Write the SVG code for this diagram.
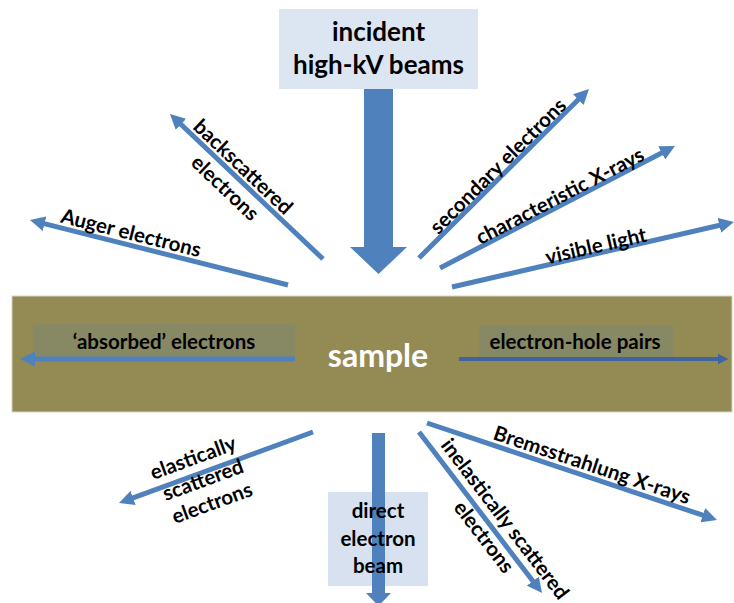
<svg xmlns="http://www.w3.org/2000/svg" width="734" height="603" viewBox="0 0 734 603">
  <defs>
    <style>
      .lbl { font-family: Lato, "Liberation Sans", sans-serif; font-weight: bold; font-size: 20.5px; fill: #000; text-anchor: middle; }
      .big { font-family: Lato, "Liberation Sans", sans-serif; font-weight: bold; font-size: 26px; fill: #000; text-anchor: middle; }
      .smp { font-family: Lato, "Liberation Sans", sans-serif; font-weight: bold; font-size: 32px; fill: #fff; text-anchor: middle; }
      .arr { stroke: #4f81bd; stroke-width: 5; fill: none; marker-end: url(#head); }
      .arr2 { stroke: #3e64a1; stroke-width: 4; fill: none; marker-end: url(#head2); }
      .blue { fill: #4f81bd; }
    </style>
    <marker id="head" viewBox="0 0 10 10" refX="1" refY="5" markerWidth="3" markerHeight="3" orient="auto" markerUnits="strokeWidth">
      <path d="M0,0 L10,5 L0,10 z" fill="#4f81bd"/>
    </marker>
    <marker id="head2" viewBox="0 0 10 10" refX="1" refY="5" markerWidth="2.6" markerHeight="2.6" orient="auto" markerUnits="strokeWidth">
      <path d="M0,0 L10,5 L0,10 z" fill="#3e64a1"/>
    </marker>
  </defs>

  <rect width="734" height="603" fill="#ffffff"/>

  <g id="sample">
    <rect x="12" y="296" width="720" height="116" fill="#948a54" stroke="#d8d6c4" stroke-width="1"/>
    <text class="smp" x="378" y="367">sample</text>
  </g>

  <g id="incident">
    <rect x="279" y="9" width="199" height="80" fill="#dce6f2"/>
    <text class="big" x="378.5" y="41">incident</text>
    <text class="big" x="378.5" y="74">high-kV beams</text>
  </g>

  <g id="absorbed">
    <rect x="33" y="324" width="262" height="33" fill="#878965"/>
    <text class="lbl" x="164" y="349">‘absorbed’ electrons</text>
  </g>

  <g id="electron-hole">
    <rect x="479" y="325" width="194" height="34" fill="#878965"/>
    <text class="lbl" x="575" y="349">electron-hole pairs</text>
  </g>

  <g id="direct">
    <rect x="328" y="492" width="100" height="94" fill="#d7e1f0"/>
  </g>

  <g id="connectors">
    <polygon class="blue" points="364,89 393,89 393,247 407,247 378.5,274 350,247 364,247"/>
    <line class="arr" x1="323" y1="259" x2="179.8" y2="123.3"/>
    <line class="arr" x1="288" y1="285" x2="43.1" y2="223.3"/>
    <line class="arr" x1="419" y1="258" x2="579.4" y2="98.5"/>
    <line class="arr" x1="440" y1="268" x2="663" y2="152.2"/>
    <line class="arr" x1="452" y1="287" x2="720.8" y2="225"/>
    <line class="arr" x1="295" y1="359" x2="33.5" y2="359"/>
    <line class="arr2" x1="459" y1="359" x2="719" y2="359"/>
    <line class="arr" x1="313" y1="432" x2="131.7" y2="498.4"/>
    <line class="arr" x1="419" y1="432" x2="533.8" y2="582.3"/>
    <line class="arr" x1="427" y1="423" x2="704.2" y2="515.7"/>
    <polygon class="blue" points="372,433 385,433 385,593 391,593 378.5,606 366,593 372,593"/>
  </g>

  <g id="direct-label">
    <text class="lbl" x="378" y="518">direct</text>
    <text class="lbl" x="378" y="546">electron</text>
    <text class="lbl" x="378" y="573">beam</text>
  </g>

  <g id="labels">
    <g transform="translate(131,233) rotate(14.1)"><text class="lbl" y="7">Auger electrons</text></g>
    <g transform="translate(243,167) rotate(43.5)"><text class="lbl" y="7">backscattered</text></g>
    <g transform="translate(225,188) rotate(43.5)"><text class="lbl" y="7">electrons</text></g>
    <g transform="translate(498,166) rotate(-44.8)"><text class="lbl" y="7">secondary electrons</text></g>
    <g transform="translate(560,196) rotate(-27.4)"><text class="lbl" y="7">characteristic X-rays</text></g>
    <g transform="translate(596,246) rotate(-13)"><text class="lbl" y="7">visible light</text></g>
    <g transform="translate(193,458) rotate(-20.1)"><text class="lbl" y="7">elastically</text></g>
    <g transform="translate(203,480) rotate(-20.1)"><text class="lbl" y="7">scattered</text></g>
    <g transform="translate(212,503) rotate(-20.1)"><text class="lbl" y="7">electrons</text></g>
    <g transform="translate(505,519) rotate(52.6)"><text class="lbl" y="7">inelastically scattered</text></g>
    <g transform="translate(484,537) rotate(52.6)"><text class="lbl" y="7">electrons</text></g>
    <g transform="translate(592,465) rotate(18.5)"><text class="lbl" y="7">Bremsstrahlung X-rays</text></g>
  </g>
</svg>
